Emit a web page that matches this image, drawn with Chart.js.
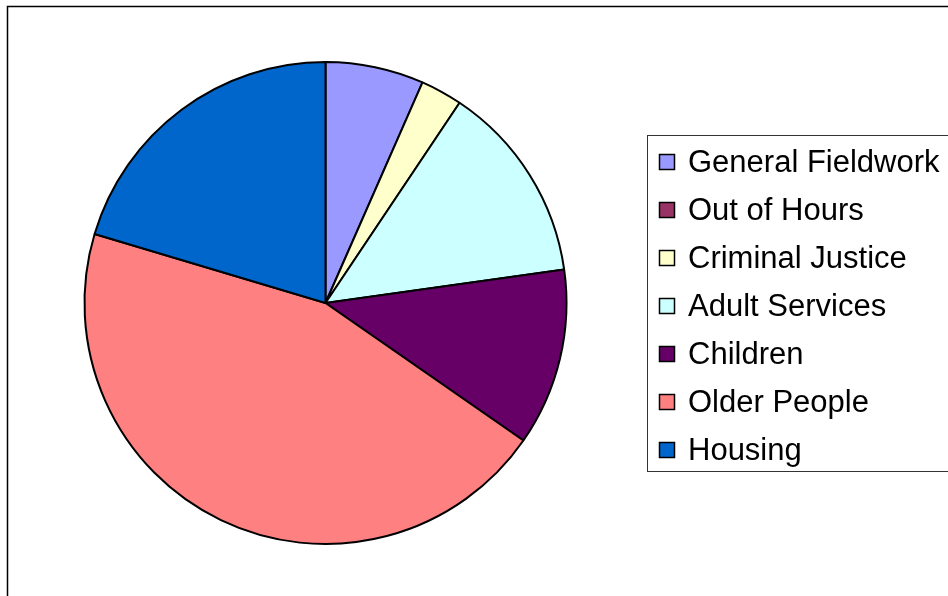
<!DOCTYPE html>
<html>
<head>
<meta charset="utf-8">
<script src="https://cdn.jsdelivr.net/npm/chart.js@4/dist/chart.umd.min.js"></script>
<style>
  html, body { margin: 0; padding: 0; background: #fff; }
  #wrap { width: 948px; height: 596px; }
</style>
</head>
<body>
<div id="wrap"><canvas id="myChart" width="948" height="596"></canvas></div>
<script>
// ===== Data =====
const categories = ["General Fieldwork", "Out of Hours", "Criminal Justice", "Adult Services", "Children", "Older People", "Housing"];
const shares = [6.6, 0, 2.8, 13.4, 11.9, 45.0, 20.4];   // percent of total
const sliceColors = ["#9999FF", "#993366", "#FFFFCC", "#CCFFFF", "#660066", "#FF8080", "#0066CC"];

const FONT = '"Liberation Sans", Arial, sans-serif';

// ===== Outer frame + boxed legend, drawn after the pie =====
const frameAndLegend = {
  id: 'frameAndLegend',
  afterDraw(chart) {
    const c = chart.ctx;
    c.save();

    // chart frame (runs off the right and bottom edge)
    c.strokeStyle = '#000';
    c.lineWidth = 1.5;
    c.beginPath();
    c.moveTo(7.5, 700);
    c.lineTo(7.5, 6.5);
    c.lineTo(1000, 6.5);
    c.stroke();

    // legend box
    c.lineWidth = 1;
    c.strokeStyle = '#333';
    c.strokeRect(647.5, 135.5, 400, 336);

    const labels = chart.data.labels;
    const colors = chart.data.datasets[0].backgroundColor;
    c.font = '31px ' + FONT;
    c.textBaseline = 'alphabetic';
    labels.forEach((lab, i) => {
      const y = 172 + i * 48;   // text baseline
      c.fillStyle = colors[i];
      c.fillRect(659.5, y - 17.5, 15, 15);
      c.strokeStyle = '#000';
      c.lineWidth = 1.5;
      c.strokeRect(659.5, y - 17.5, 15, 15);
      c.fillStyle = '#000';
      c.fillText(lab, 688, y);
    });
    c.restore();
  }
};

// ===== Pie chart =====
const ctx = document.getElementById('myChart').getContext('2d');
const chart = new Chart(ctx, {
  type: 'pie',
  data: {
    labels: categories,
    datasets: [{
      data: shares,
      backgroundColor: sliceColors,
      borderColor: '#000',
      borderWidth: 2
    }]
  },
  options: {
    responsive: false,
    animation: false,
    layout: { padding: { left: 83, right: 380, top: 61, bottom: 51 } },
    plugins: {
      legend: { display: false },
      tooltip: { enabled: false }
    }
  },
  plugins: [frameAndLegend]
});
</script>
</body>
</html>
